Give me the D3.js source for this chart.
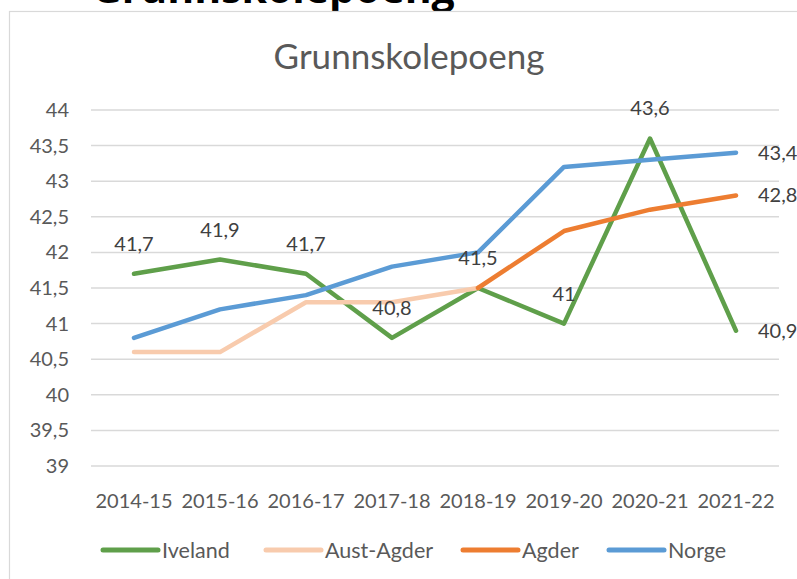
<!DOCTYPE html>
<html>
<head>
<meta charset="utf-8">
<script src="https://cdn.jsdelivr.net/npm/d3@7"></script>
<style>
  html, body { margin: 0; padding: 0; background: #fff; }
  svg { display: block; font-family: Lato, "Open Sans", sans-serif; }
</style>
</head>
<body>
<svg id="chart" width="797" height="579"></svg>
<script>
const categories = ["2014-15", "2015-16", "2016-17", "2017-18", "2018-19", "2019-20", "2020-21", "2021-22"];
const iveland   = [41.7, 41.9, 41.7, 40.8, 41.5, 41.0, 43.6, 40.9];
const austAgder = [40.6, 40.6, 41.3, 41.3, 41.5, null, null, null];
const agder     = [null, null, null, null, 41.5, 42.3, 42.6, 42.8];
const norge     = [40.8, 41.2, 41.4, 41.8, 42.0, 43.2, 43.3, 43.4];
const yTicks    = [39, 39.5, 40, 40.5, 41, 41.5, 42, 42.5, 43, 43.5, 44];
const seriesNames = ["Iveland", "Aust-Agder", "Agder", "Norge"];
const title = "Grunnskolepoeng";

const colors = {"Iveland": "#5f9f4a", "Aust-Agder": "#f8cbad", "Agder": "#ed7d31", "Norge": "#5b9bd5"};
const series = [
  {name: "Iveland", values: iveland},
  {name: "Aust-Agder", values: austAgder},
  {name: "Agder", values: agder},
  {name: "Norge", values: norge}
];

const svg = d3.select("#chart");
const fmt = v => String(v).replace(".", ",");

// cropped page heading above the chart frame
svg.append("text").attr("x", 92).attr("y", 3)
  .attr("font-family", "'Open Sans', sans-serif")
  .attr("font-weight", "bold").attr("font-size", 41).attr("fill", "#000")
  .text(title);

// chart frame
svg.append("rect").attr("x", 9.5).attr("y", 11.5).attr("width", 820).attr("height", 620)
  .attr("fill", "#fff").attr("stroke", "#d9d9d9").attr("stroke-width", 1.2);

const x = d3.scaleBand().domain(categories).range([91, 779]);
const y = d3.scaleLinear().domain([39, 44]).range([466, 110]);
const cx = c => x(c) + x.bandwidth() / 2;

// title
svg.append("text").attr("x", 409).attr("y", 69).attr("text-anchor", "middle")
  .attr("font-size", 35).attr("fill", "#595959").text(title);

// gridlines
svg.append("g").selectAll("line").data(yTicks).join("line")
  .attr("x1", 91).attr("x2", 779)
  .attr("y1", d => y(d)).attr("y2", d => y(d))
  .attr("stroke", "#d9d9d9").attr("stroke-width", 1.5);

// y axis labels
const yAxis = d3.axisLeft(y).tickValues(yTicks).tickFormat(fmt).tickSize(0).tickPadding(0);
const gy = svg.append("g").attr("transform", "translate(69,0)").call(yAxis);
gy.select(".domain").remove();
gy.selectAll("text").attr("font-size", 20).attr("font-family", "Lato, sans-serif").attr("fill", "#595959");

// x axis labels
const xAxis = d3.axisBottom(x).tickSize(0).tickPadding(0);
const gx = svg.append("g").attr("transform", "translate(0,494)").call(xAxis);
gx.select(".domain").remove();
gx.selectAll("text").attr("font-size", 20).attr("font-family", "Lato, sans-serif").attr("fill", "#595959");

// lines
const line = d3.line()
  .defined(d => d != null)
  .x((d, i) => cx(categories[i]))
  .y(d => y(d));

svg.append("g").selectAll("path").data(series).join("path")
  .attr("d", s => line(s.values))
  .attr("fill", "none")
  .attr("stroke", s => colors[s.name])
  .attr("stroke-width", 4.5)
  .attr("stroke-linecap", "round")
  .attr("stroke-linejoin", "round");

// data labels
const lbl = svg.append("g").attr("font-size", 20).attr("fill", "#404040");
iveland.forEach((v, i) => {
  const last = i === iveland.length - 1;
  lbl.append("text")
    .attr("x", last ? cx(categories[i]) + 22 : cx(categories[i]))
    .attr("y", last ? y(v) + 7 : y(v) - 23)
    .attr("text-anchor", last ? "start" : "middle")
    .text(fmt(v));
});
[norge, agder].forEach(arr => {
  const i = arr.length - 1;
  lbl.append("text")
    .attr("x", cx(categories[i]) + 22)
    .attr("y", y(arr[i]) + 7)
    .attr("text-anchor", "start")
    .text(fmt(arr[i]));
});

// legend
const legendX = [103, 266, 463, 609];
const lg = svg.append("g");
series.forEach((s, i) => {
  const g = lg.append("g").attr("transform", `translate(${legendX[i]},550)`);
  g.append("line").attr("x1", 0).attr("x2", 55).attr("y1", 0).attr("y2", 0)
    .attr("stroke", colors[s.name]).attr("stroke-width", 5).attr("stroke-linecap", "round");
  g.append("text").attr("x", 59).attr("y", 7.5).attr("font-size", 21.5)
    .attr("fill", "#595959").text(s.name);
});
</script>
</body>
</html>
